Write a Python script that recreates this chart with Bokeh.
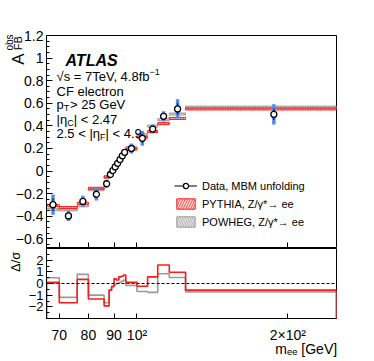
import math
from bokeh.plotting import figure
from bokeh.models import (ColumnDataSource, Range1d, FixedTicker, Label, Legend, LegendItem,
                          Span, LinearAxis)
from bokeh.layouts import column
from bokeh.embed import file_html
from bokeh.resources import INLINE
from bokeh.core.properties import value

FONT = "Liberation Sans"
NB = "\u00a0"

# ---------------- data ----------------
mass_edges = [66, 70, 76, 80, 86, 88, 89, 90, 91, 92, 93, 94, 95, 100, 105, 110, 116, 125, 250]
afb_data = [-0.297, -0.397, -0.268, -0.205, -0.112, -0.030, 0.005, 0.037, 0.069,
            0.102, 0.135, 0.166, 0.200, 0.290, 0.372, 0.485, 0.550, 0.502]
afb_err_tot = [0.090, 0.045, 0.050, 0.055, 0.035, 0.025, 0.022, 0.022, 0.022,
               0.022, 0.022, 0.025, 0.045, 0.065, 0.040, 0.045, 0.085, 0.090]
afb_err_stat = [0.055, 0.028, 0.030, 0.032, 0.020, 0.014, 0.012, 0.012, 0.012,
                0.012, 0.012, 0.014, 0.026, 0.040, 0.025, 0.028, 0.050, 0.050]
afb_pythia = [-0.306, -0.323, -0.285, -0.152, -0.050, -0.016, 0.011, 0.027, 0.062,
              0.088, 0.120, 0.148, 0.195, 0.300, 0.350, 0.420, 0.466, 0.550]
afb_powheg = [-0.341, -0.343, -0.307, -0.165, -0.058, -0.016, 0.012, 0.040, 0.069,
              0.100, 0.130, 0.158, 0.208, 0.325, 0.398, 0.455, 0.505, 0.566]
pull_pythia = [0.10, -1.65, 0.35, -1.33, -1.92, -0.57, -0.24, 0.40, 0.30,
               0.57, 0.62, 0.73, 0.10, -0.24, 0.57, 1.59, 0.97, -0.57]
pull_powheg = [0.49, -1.19, 0.78, -1.00, -1.65, -0.57, -0.30, -0.10, 0.00,
               0.08, 0.19, 0.30, -0.17, -0.68, -0.76, 0.83, 0.51, -0.73]

x_tick_values = [70, 80, 90, 100, 200]
x_tick_labels = ["70", "80", "90", "10²", "2×10²"]
y_tick_values = [-0.6, -0.4, -0.2, 0, 0.2, 0.4, 0.6, 0.8, 1.0, 1.2]
y_tick_labels = ["−0.6", "−0.4", "−0.2", "0", "0.2", "0.4", "0.6", "0.8", "1", "1.2"]
y_minor_values = [-0.65, -0.55, -0.5, -0.45, -0.35, -0.3, -0.25, -0.15, -0.1, -0.05,
                  0.05, 0.1, 0.15, 0.25, 0.3, 0.35, 0.45, 0.5, 0.55, 0.65, 0.7, 0.75,
                  0.85, 0.9, 0.95, 1.05, 1.1, 1.15]
r_tick_values = [-2, -1, 0, 1, 2]
r_tick_labels = ["−2", "−1", "0", "1", "2"]
r_minor_values = [-2.5, -1.5, -0.5, 0.5, 1.5, 2.5]

RED = "#ff1a1a"
GRAY = "#9a9a9a"
BLUE = "#4f8eef"

# ---------------- sources ----------------
lo = mass_edges[:-1]
hi = mass_edges[1:]
xc = [(a + b) / 2 for a, b in zip(lo, hi)]
band = 0.009
src = ColumnDataSource(dict(
    lo=lo, hi=hi, xc=xc, y=afb_data,
    tlo=[v - e for v, e in zip(afb_data, afb_err_tot)],
    thi=[v + e for v, e in zip(afb_data, afb_err_tot)],
    slo=[v - e for v, e in zip(afb_data, afb_err_stat)],
    shi=[v + e for v, e in zip(afb_data, afb_err_stat)],
    py_lo=[v - band for v in afb_pythia], py_hi=[v + band for v in afb_pythia],
    pw_lo=[v - band for v in afb_powheg], pw_hi=[v + band for v in afb_powheg],
))

xr = Range1d(66, 250)


def style_axis(ax, tick_in=6, minor_in=3):
    ax.major_tick_in = tick_in
    ax.major_tick_out = 0
    ax.minor_tick_in = minor_in
    ax.minor_tick_out = 0
    ax.axis_line_color = "black"
    ax.major_tick_line_color = "black"
    ax.minor_tick_line_color = "black"
    ax.major_label_text_font = FONT
    ax.major_label_text_color = "black"


def set_align(ax, how):
    try:
        ax.axis_label_align = how
    except Exception:
        pass


def title_axis(text, size, standoff):
    ax = LinearAxis(ticker=FixedTicker(ticks=[], minor_ticks=[]), axis_line_color=None,
                    major_tick_line_color=None, minor_tick_line_color=None,
                    major_tick_in=0, major_tick_out=0, minor_tick_in=0, minor_tick_out=0,
                    major_label_standoff=0, major_label_text_font_size="0px",
                    major_label_text_color=None,
                    axis_label=text, axis_label_text_font=FONT,
                    axis_label_text_font_size=f"{size}px", axis_label_text_font_style="normal",
                    axis_label_text_color="black", axis_label_standoff=standoff)
    set_align(ax, "end")
    return ax


# ---------------- main panel ----------------
p1 = figure(width=366, height=248, x_axis_type="log", x_range=xr, y_range=Range1d(-0.685, 1.2),
            output_backend="svg", toolbar_location=None,
            min_border_left=45, min_border_right=30, min_border_top=35, min_border_bottom=0)
p1.grid.visible = False
p1.outline_line_color = "black"
p1.outline_line_width = 1

pw_r = p1.quad(left="lo", right="hi", bottom="pw_lo", top="pw_hi", source=src,
               fill_color=GRAY, fill_alpha=0.25, hatch_pattern="\\", hatch_color=GRAY,
               hatch_scale=5, hatch_weight=0.8, line_color=GRAY, line_width=1)
py_r = p1.quad(left="lo", right="hi", bottom="py_lo", top="py_hi", source=src,
               fill_color=RED, fill_alpha=0.15, hatch_pattern="/", hatch_color=RED,
               hatch_scale=5, hatch_weight=0.8, line_color=RED, line_width=1)
p1.segment(x0="xc", y0="tlo", x1="xc", y1="thi", source=src, line_color=BLUE, line_width=3.5)
st_r = p1.segment(x0="xc", y0="slo", x1="xc", y1="shi", source=src, line_color="black", line_width=1)
ci_r = p1.scatter(x="xc", y="y", source=src, marker="circle", size=6,
                  fill_color="white", line_color="black", line_width=1.3)

yax = p1.yaxis[0]
yax.ticker = FixedTicker(ticks=y_tick_values, minor_ticks=y_minor_values)
yax.major_label_overrides = {v: s for v, s in zip(y_tick_values, y_tick_labels)}
style_axis(yax)
yax.major_label_standoff = 3
yax.major_label_text_font_size = "14px"
# y title A_FB^obs, built from three axis titles (label centred at the top end, padded)
yax.axis_label = "A" + NB * 10
yax.axis_label_text_font = FONT
yax.axis_label_text_font_size = "17px"
yax.axis_label_text_font_style = "normal"
yax.axis_label_text_color = "black"
yax.axis_label_standoff = -15
set_align(yax, "end")
p1.add_layout(title_axis("obs" + NB * 5, 10, -9), "left")
p1.add_layout(title_axis("FB" + NB * 5, 11, -23), "left")

xax1 = p1.xaxis[0]
xax1.ticker = FixedTicker(ticks=x_tick_values, minor_ticks=[])
style_axis(xax1)
xax1.major_label_text_font_size = "0px"
xax1.major_label_text_color = None
xax1.major_label_standoff = 0

leg = Legend(items=[
    LegendItem(label=value("Data, MBM unfolding"), renderers=[st_r, ci_r]),
    LegendItem(label=value("PYTHIA, Z/γ*→ ee"), renderers=[py_r]),
    LegendItem(label=value("POWHEG, Z/γ*→ ee"), renderers=[pw_r]),
], location=(128, 20), glyph_width=23, glyph_height=13, label_height=13, label_width=10,
    label_standoff=5, spacing=5, padding=0, margin=0, border_line_color=None,
    background_fill_alpha=0, label_text_font=FONT, label_text_font_size="11px",
    label_text_color="black", label_text_baseline="middle")
p1.add_layout(leg)


def put(p, fx, fy, ix, iy, text, size, style="normal"):
    p.add_layout(Label(x=ix - fx, y=fy - iy, x_units="screen", y_units="screen", text=text,
                       text_font=FONT, text_font_size=f"{size}px", text_font_style=style,
                       text_color="black", text_align="left", text_baseline="alphabetic"))


F1X, F1Y = 45, 248
put(p1, F1X, F1Y, 64, 60, "ATLAS", 16, "bold italic")
put(p1, F1X, F1Y, 55, 76, "√s = 7TeV, 4.8fb", 13)
put(p1, F1X, F1Y, 148, 71, "−1", 9)
put(p1, F1X, F1Y, 55, 90.7, "CF electron", 13)
put(p1, F1X, F1Y, 55, 104.3, "p", 13)
put(p1, F1X, F1Y, 62.2, 107.3, "T", 9)
put(p1, F1X, F1Y, 68.5, 104.3, " > 25 GeV", 13)
put(p1, F1X, F1Y, 55, 119, "|η", 13)
put(p1, F1X, F1Y, 65.8, 122, "C", 9)
put(p1, F1X, F1Y, 72.3, 119, "| < 2.47", 13)
put(p1, F1X, F1Y, 55, 133.3, "2.5 < |η", 13)
put(p1, F1X, F1Y, 98.5, 136.3, "F", 9)
put(p1, F1X, F1Y, 104, 133.3, "| < 4.9", 13)

# ---------------- ratio panel ----------------
R_MIN, R_MAX = -3.0, 3.0
p2 = figure(width=366, height=111, x_axis_type="log", x_range=xr, y_range=Range1d(R_MIN, R_MAX),
            output_backend="svg", toolbar_location=None,
            min_border_left=45, min_border_right=30, min_border_top=0, min_border_bottom=37)
p2.grid.visible = False
p2.outline_line_color = "black"
p2.outline_line_width = 1


def step_xy(vals):
    xs = [mass_edges[0]]
    ys = [R_MIN]
    for i, v in enumerate(vals):
        xs += [mass_edges[i], mass_edges[i + 1]]
        ys += [v, v]
    xs.append(mass_edges[-1])
    ys.append(R_MIN)
    return xs, ys


gx, gy = step_xy(pull_powheg)
rx, ry = step_xy(pull_pythia)
p2.line(gx, gy, line_color=GRAY, line_width=1.6)
p2.line(rx, ry, line_color=RED, line_width=1.6)
p2.add_layout(Span(location=0, dimension="width", line_color="black", line_width=1, line_dash="3 2"))

ry_ax = p2.yaxis[0]
ry_ax.ticker = FixedTicker(ticks=r_tick_values, minor_ticks=r_minor_values)
ry_ax.major_label_overrides = {v: s for v, s in zip(r_tick_values, r_tick_labels)}
style_axis(ry_ax)
ry_ax.major_label_standoff = 3
ry_ax.major_label_text_font_size = "13px"
ry_ax.axis_label = NB * 12 + "Δ/σ"
ry_ax.axis_label_text_font = FONT
ry_ax.axis_label_text_font_size = "13px"
ry_ax.axis_label_text_font_style = "normal"
ry_ax.axis_label_text_color = "black"
ry_ax.axis_label_standoff = 3

rx_ax = p2.xaxis[0]
rx_ax.ticker = FixedTicker(ticks=x_tick_values, minor_ticks=[])
rx_ax.major_label_overrides = {v: s for v, s in zip(x_tick_values, x_tick_labels)}
style_axis(rx_ax, tick_in=5)
rx_ax.major_label_standoff = 8
rx_ax.major_label_text_font_size = "14px"
rx_ax.axis_label = NB * 59 + "mₑₑ [GeV]"
rx_ax.axis_label_text_font = FONT
rx_ax.axis_label_text_font_size = "14px"
rx_ax.axis_label_text_font_style = "normal"
rx_ax.axis_label_text_color = "black"
rx_ax.axis_label_standoff = -5

layout = column(p1, p2, spacing=0)
open("out.html", "w").write(file_html(layout, INLINE))
